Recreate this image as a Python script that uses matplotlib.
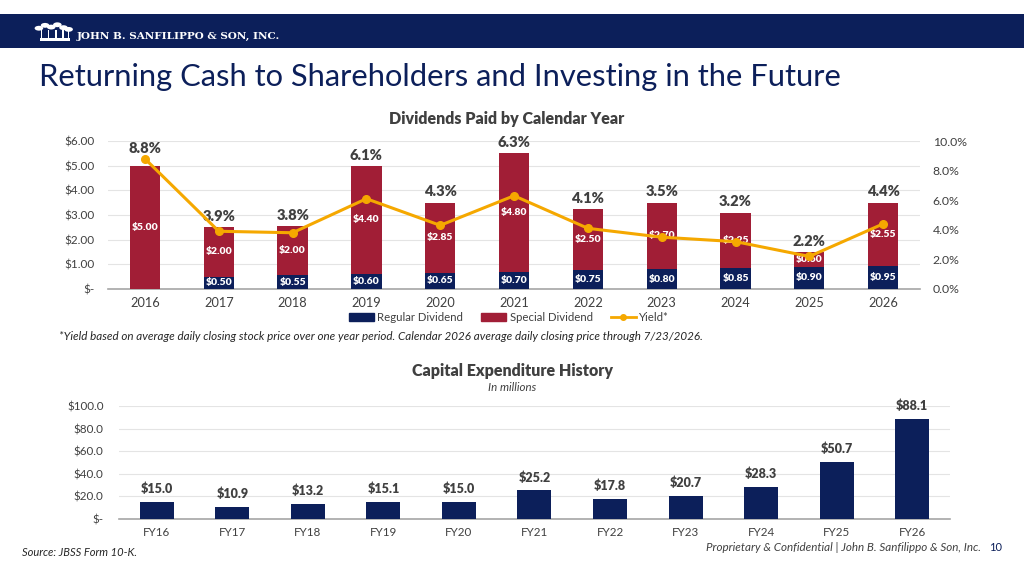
import matplotlib.pyplot as plt
import matplotlib.patches as mpatches
from matplotlib.lines import Line2D
import numpy as np

plt.rcParams['font.family'] = ['Lato', 'DejaVu Sans']

NAVY = '#0c1f5a'
RED = '#a11e36'
GOLD = '#f5a800'
GRID = '#e4e4e4'
TEXT = '#404040'

# dividends by calendar year
years = ['2016', '2017', '2018', '2019', '2020', '2021', '2022', '2023', '2024', '2025', '2026']
regular = [0.00, 0.50, 0.55, 0.60, 0.65, 0.70, 0.75, 0.80, 0.85, 0.90, 0.95]
special = [5.00, 2.00, 2.00, 4.40, 2.85, 4.80, 2.50, 2.70, 2.25, 0.60, 2.55]
yield_pct = [8.8, 3.9, 3.8, 6.1, 4.3, 6.3, 4.1, 3.5, 3.2, 2.2, 4.4]

# capex history, $ millions
fiscal_years = ['FY16', 'FY17', 'FY18', 'FY19', 'FY20', 'FY21', 'FY22', 'FY23', 'FY24', 'FY25', 'FY26']
capex = [15.0, 10.9, 13.2, 15.1, 15.0, 25.2, 17.8, 20.7, 28.3, 50.7, 88.1]

fig = plt.figure(figsize=(10.24, 5.76), dpi=100)

# header band
fig.patches.append(mpatches.Rectangle((0, 0.9167), 1, 0.059, transform=fig.transFigure,
                                      facecolor=NAVY, edgecolor='none', zorder=0))
# rough logo: little trees in a frame
for dx, dy in [(0.038, 0.951), (0.044, 0.956), (0.050, 0.953), (0.056, 0.957),
               (0.062, 0.952), (0.067, 0.949)]:
    fig.patches.append(mpatches.Circle((dx, dy), 0.0042, transform=fig.transFigure,
                                       facecolor='white', edgecolor='none'))
for dx in [0.040, 0.047, 0.054, 0.061, 0.066]:
    fig.patches.append(mpatches.Rectangle((dx, 0.932), 0.0012, 0.016, transform=fig.transFigure,
                                          facecolor='white', edgecolor='none'))
fig.patches.append(mpatches.Rectangle((0.039, 0.928), 0.029, 0.006, transform=fig.transFigure,
                                      facecolor='white', edgecolor='none'))
fig.text(0.075, 0.937, 'JOHN B. SANFILIPPO & SON, INC.', color='white', fontsize=7.5,
         fontweight='bold', family='DejaVu Serif', va='center')

fig.text(0.038, 0.866, 'Returning Cash to Shareholders and Investing in the Future',
         color=NAVY, fontsize=22.2, va='center')

# ---- dividends chart ----
ax = fig.add_axes([0.1055, 0.4983, 0.793, 0.2569])
x = np.arange(len(years))
w = 0.41
ax.bar(x, regular, w, color=NAVY, zorder=3)
ax.bar(x, special, w, bottom=regular, color=RED, zorder=3)
ax.set_ylim(0, 6)
ax.set_xlim(-0.5, len(years) - 0.5)
ax.set_yticks(np.arange(0, 7, 1))
ax.set_yticklabels(['$-'] + [f'${v:.2f}' for v in range(1, 7)])
ax.set_xticks(x)
ax.set_xticklabels(years)
ax.grid(axis='y', color=GRID, linewidth=0.8, zorder=0)
for s in ['top', 'right', 'left']:
    ax.spines[s].set_visible(False)
ax.spines['bottom'].set_color('#a6a6a6')
ax.spines['bottom'].set_linewidth(1.2)
ax.tick_params(length=0, labelsize=8.5, colors=TEXT, pad=6)
ax.tick_params(axis='x', labelsize=9.2)
ax.tick_params(axis='y', pad=10)

for i in range(len(years)):
    if regular[i] > 0:
        ax.text(x[i], regular[i] / 2, f'${regular[i]:.2f}', ha='center', va='center',
                color='white', fontsize=7.5, fontweight='heavy', zorder=5)
    ax.text(x[i], regular[i] + special[i] / 2, f'${special[i]:.2f}', ha='center', va='center',
            color='white', fontsize=7.5, fontweight='heavy', zorder=5)

ax2 = ax.twinx()
ax2.plot(x, yield_pct, color=GOLD, linewidth=2.2, marker='o', markersize=5.5, zorder=6)
ax2.set_ylim(0, 10)
ax2.set_yticks(np.arange(0, 11, 2))
ax2.set_yticklabels([f'{v:.1f}%' for v in range(0, 11, 2)])
for s in ['top', 'right', 'left', 'bottom']:
    ax2.spines[s].set_visible(False)
ax2.tick_params(length=0, labelsize=8.8, colors=TEXT, pad=9)

for i in range(len(years)):
    top = max(regular[i] + special[i], yield_pct[i] * 0.6)
    ax.annotate(f'{yield_pct[i]:.1f}%', (x[i], top), xytext=(0, 3), textcoords='offset points',
                ha='center', va='bottom', fontsize=10.5, fontweight='heavy', color=TEXT,
                annotation_clip=False, zorder=7)

fig.text(0.495, 0.793, 'Dividends Paid by Calendar Year', ha='center', va='center',
         fontsize=11.5, fontweight='heavy', color=TEXT)

handles = [mpatches.Patch(color=NAVY, label='Regular Dividend'),
           mpatches.Patch(color=RED, label='Special Dividend'),
           Line2D([], [], color=GOLD, linewidth=2, marker='o', markersize=4, label='Yield*')]
fig.legend(handles=handles, loc='center', bbox_to_anchor=(0.497, 0.448), ncol=3, frameon=False,
           fontsize=8.2, handlelength=2.2, handleheight=0.7, columnspacing=1.6, handletextpad=0.3,
           labelcolor=TEXT)

fig.text(0.058, 0.416, '*Yield based on average daily closing stock price over one year period. '
         'Calendar 2026 average daily closing price through 7/23/2026.',
         fontsize=8.4, style='italic', color='#262626', va='center')

# ---- capex chart ----
bx = fig.add_axes([0.1162, 0.099, 0.8115, 0.1962])
xb = np.arange(len(fiscal_years))
bx.bar(xb, capex, 0.45, color=NAVY, zorder=3)
bx.set_ylim(0, 100)
bx.set_xlim(-0.5, len(fiscal_years) - 0.5)
bx.set_yticks(np.arange(0, 101, 20))
bx.set_yticklabels(['$-'] + [f'${v:.1f}' for v in range(20, 101, 20)])
bx.set_xticks(xb)
bx.set_xticklabels(fiscal_years)
bx.grid(axis='y', color=GRID, linewidth=0.8, zorder=0)
for s in ['top', 'right', 'left']:
    bx.spines[s].set_visible(False)
bx.spines['bottom'].set_color('#a6a6a6')
bx.spines['bottom'].set_linewidth(1.2)
bx.tick_params(length=0, labelsize=8.4, colors=TEXT, pad=6)
bx.tick_params(axis='y', pad=11)
for i, v in enumerate(capex):
    bx.annotate(f'${v:.1f}', (xb[i], v), xytext=(0, 5), textcoords='offset points',
                ha='center', va='bottom', fontsize=9, fontweight='heavy', color=TEXT,
                annotation_clip=False)

fig.text(0.5, 0.356, 'Capital Expenditure History', ha='center', va='center',
         fontsize=11.5, fontweight='heavy', color=TEXT)
fig.text(0.5, 0.328, 'In millions', ha='center', va='center',
         fontsize=8.3, style='italic', color=TEXT)

fig.text(0.021, 0.040, 'Source: JBSS Form 10-K.', fontsize=8, style='italic',
         color='#262626', va='center')
fig.text(0.958, 0.050, 'Proprietary & Confidential | John B. Sanfilippo & Son, Inc.',
         fontsize=8.4, style='italic', color=TEXT, ha='right', va='center')
fig.text(0.966, 0.050, '10', fontsize=8, color=NAVY, ha='left', va='center')

fig.savefig('out.png', dpi=100)
